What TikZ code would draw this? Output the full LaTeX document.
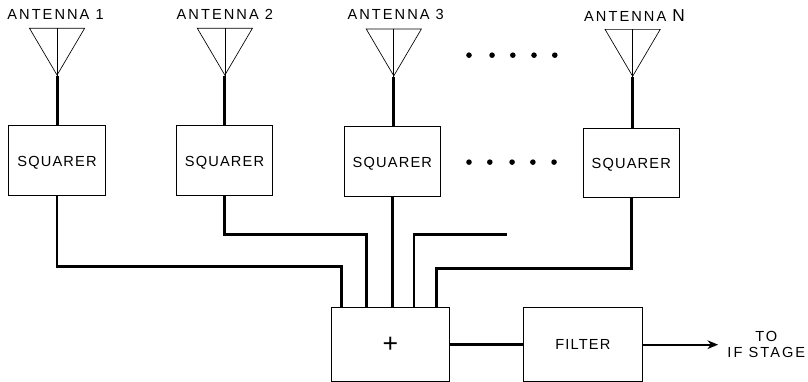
\documentclass[tikz,border=0pt]{standalone}
\usepackage{fontspec}
\setmainfont[LetterSpace=8]{Liberation Sans}
\usepackage{xcolor}
\usepackage{tikz}
\usetikzlibrary{positioning, arrows.meta, shapes.geometric}

\begin{document}
\begin{tikzpicture}[
  >={Stealth[length=8pt, width=6.5pt]},
  every node/.style={font=\fontsize{11}{12}\selectfont, align=center},
  box/.style={draw, line width=0.6pt, inner sep=0pt, minimum width=2.55cm, minimum height=1.85cm, text height=11pt},
  sumbox/.style={draw, line width=0.6pt, inner sep=0pt, minimum width=3.14cm, minimum height=1.96cm},
  ant/.style={draw, line width=0.5pt, isosceles triangle, isosceles triangle stretches, shape border rotate=270,
    inner sep=0pt, minimum width=1.46cm, minimum height=1.24cm},
  anttext/.style={inner sep=0pt, font=\fontsize{11}{12}\selectfont\addfontfeature{LetterSpace=14}},
  dotmark/.style={circle, fill=black, inner sep=0pt, minimum size=4.2pt},
  wire/.style={line width=1.9pt},
  mast/.style={line width=2.2pt},
  thinwire/.style={line width=0.5pt},
]
\useasboundingbox (0,0) rectangle (21.38,-10.107);

% Row 1: Squarers
\node[box] at (1.51,-4.25) (sq1) {SQUARER};
\node[box, right=1.86cm of sq1] (sq2) {SQUARER};
\node[box, right=1.87cm of sq2, yshift=-0.03cm] (sq3) {SQUARER};
\node[box, right=3.75cm of sq3, yshift=-0.03cm] (sqN) {SQUARER};

% Row 2: Antennas
\node[ant, anchor=apex] at (1.51,-2.01) (ant1) {};
\node[ant, anchor=apex] at (5.95,-2.01) (ant2) {};
\node[ant, anchor=apex] at (10.42,-2.03) (ant3) {};
\node[ant, anchor=apex] at (16.74,-2.04) (antN) {};
\node[anttext, above=0.22cm of ant1.lower side, xshift=-0.04cm] (lab1) {ANTENNA 1};
\node[anttext, above=0.22cm of ant2.lower side] (lab2) {ANTENNA 2};
\node[anttext, above=0.22cm of ant3.lower side, xshift=0.05cm] (lab3) {ANTENNA 3};
\node[anttext, above=0.2cm of antN.lower side, xshift=0.05cm] (labN) {ANTENNA {\fontsize{13}{13}\selectfont N}};

% Dots
\node[dotmark] at (12.41,-1.46) (dota1) {};
\node[dotmark] at (13.02,-1.46) (dota2) {};
\node[dotmark] at (13.57,-1.46) (dota3) {};
\node[dotmark] at (14.13,-1.46) (dota4) {};
\node[dotmark] at (14.68,-1.46) (dota5) {};
\node[dotmark] at (12.41,-4.29) (dotb1) {};
\node[dotmark] at (12.96,-4.29) (dotb2) {};
\node[dotmark] at (13.55,-4.29) (dotb3) {};
\node[dotmark] at (14.10,-4.29) (dotb4) {};
\node[dotmark] at (14.66,-4.29) (dotb5) {};

% Row 3: Adder, Filter, Output
\node[sumbox] at (10.33,-9.12) (sum) {\fontsize{20}{20}\selectfont +};
\node[sumbox, right=1.93cm of sum] (filter) {FILTER};
\node[right=2.0cm of filter, inner xsep=0.24cm, inner ysep=0pt,
      font=\fontsize{11}{12}\selectfont\addfontfeature{LetterSpace=14}] (stage) {TO\\IF STAGE};

% Inputs of the adder
\coordinate (in1) at ([xshift=0.29cm]sum.north west);
\coordinate (in2) at ([xshift=0.95cm]sum.north west);
\coordinate (in4) at ([xshift=2.2cm]sum.north west);
\coordinate (in5) at ([xshift=2.8cm]sum.north west);
\coordinate (stub) at ([xshift=2.46cm,yshift=1.93cm]in4);

% Edges
\draw[thinwire] (ant1.apex) -- (ant1.lower side);
\draw[thinwire] (ant2.apex) -- (ant2.lower side);
\draw[thinwire] (ant3.apex) -- (ant3.lower side);
\draw[thinwire] (antN.apex) -- (antN.lower side);
\draw[mast] (ant1.apex) -- (ant1.apex |- sq1.north);
\draw[mast] (ant2.apex) -- (ant2.apex |- sq2.north);
\draw[mast] (ant3.apex) -- (ant3.apex |- sq3.north);
\draw[mast] (antN.apex) -- (antN.apex |- sqN.north);
\draw[wire] (sq1.south) |- ([yshift=1.08cm]in1) -- (in1);
\draw[wire] (sq2.south) |- ([yshift=1.93cm]in2) -- (in2);
\draw[wire] (sq3.south) -- (sq3.south |- sum.north);
\draw[wire] (in4) |- (stub);
\draw[wire] (sqN.south) |- ([yshift=1.03cm]in5) -- (in5);
\draw[wire] (sum) -- (filter);
\draw[->, line width=1.4pt] (filter) -- (stage);
\end{tikzpicture}
\end{document}
